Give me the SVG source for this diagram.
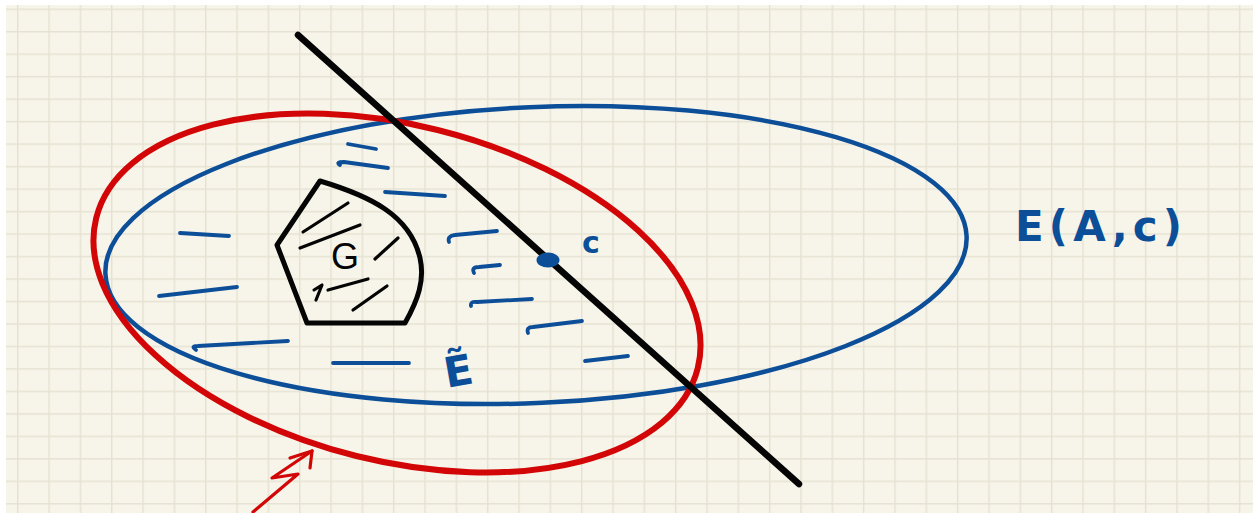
<svg xmlns="http://www.w3.org/2000/svg" width="1259" height="513" viewBox="0 0 1259 513">
<defs>
<pattern id="grid" patternUnits="userSpaceOnUse" x="17" y="8.5" width="31.33" height="22.48">
<path d="M0.75,0 V22.48 M0,0.75 H31.33" fill="none" stroke="#e6e2d3" stroke-width="1.5"/>
</pattern>
</defs>
<style>
.blue{fill:none;stroke:#0c4e98;stroke-linecap:round;stroke-linejoin:round}
.dash{stroke-width:3.8}
.red{fill:none;stroke:#d20606;stroke-linecap:round;stroke-linejoin:round}
.blk{fill:none;stroke:#050505;stroke-linecap:round;stroke-linejoin:round}
.lbl{font-family:"DejaVu Sans","Liberation Sans",sans-serif;font-weight:bold;fill:#0c4e98}
</style>
<rect width="1259" height="513" fill="#ffffff"/>
<rect x="6" y="5" width="1247" height="508" fill="#f7f5e9"/>
<rect x="6" y="5" width="1247" height="508" fill="url(#grid)"/>

<g id="shading">
<path class="blue dash" d="M180,233 L229,236"/>
<path class="blue dash" d="M159,296 L237,287"/>
<path class="blue dash" d="M196,350 Q190,346 198,346 L288,341"/>
<path class="blue dash" d="M333,363 L409,363"/>
<path class="blue dash" d="M348,144 L376,149"/>
<path class="blue dash" d="M340,165 Q335,162 344,162 L388,168"/>
<path class="blue dash" d="M385,192 L445,196"/>
<path class="blue dash" d="M449,242 Q447,236 455,235 L497,231"/>
<path class="blue dash" d="M474,273 Q471,267 479,267 L500,265"/>
<path class="blue dash" d="M471,306 Q470,301 477,302 L532,299"/>
<path class="blue dash" d="M528,333 Q526,327 533,327 L582,321"/>
<path class="blue dash" d="M585,361 L628,356"/>
</g>

<g id="ellipse-E">
<ellipse class="blue" cx="536" cy="255" rx="431" ry="148" transform="rotate(-2.5 536 255)" stroke-width="4.5"/>
</g>

<g id="ellipse-red">
<ellipse class="red" cx="397" cy="293" rx="310" ry="168" transform="rotate(14 397 293)" stroke-width="6"/>
</g>

<g id="line">
<path class="blk" d="M298,35 L799,484" stroke-width="6.5"/>
</g>

<g id="G">
<path class="blk" stroke-width="5" d="M320,181 L277,245 L307,323 L405,323 C418,300 425,280 420,258 C410,215 370,196 320,181 Z"/>
<g class="blk" stroke-width="3.2">
<path d="M303,232 L348,203"/>
<path d="M300,248 L360,225"/>
<path d="M375,259 L398,238"/>
<path d="M314,290 L322,285 L316,300"/>
<path d="M328,290 L368,279"/>
<path d="M353,310 L387,286"/>
</g>
<text x="345" y="269" text-anchor="middle" font-family="Liberation Sans, sans-serif" font-size="36" fill="#050505">G</text>
</g>

<g id="point-c">
<ellipse cx="548" cy="260" rx="11.5" ry="7.5" fill="#0c4e98"/>
<text class="lbl" x="582" y="253" font-size="30">c</text>
</g>

<g id="label-Etilde">
<text class="lbl" x="444" y="384" font-size="42" transform="rotate(-10 468 370)">Ẽ</text>
</g>

<g id="label-EAc">
<text class="lbl" x="1015" y="241" font-size="42" textLength="167" lengthAdjust="spacing">E(A,c)</text>
</g>

<g id="connectors">
<path class="red" stroke-width="3.2" d="M253,512 L298,474 L272,478 L312,451"/>
<path class="red" stroke-width="3.2" d="M290,458 L312,451 L310,468"/>
</g>
</svg>
